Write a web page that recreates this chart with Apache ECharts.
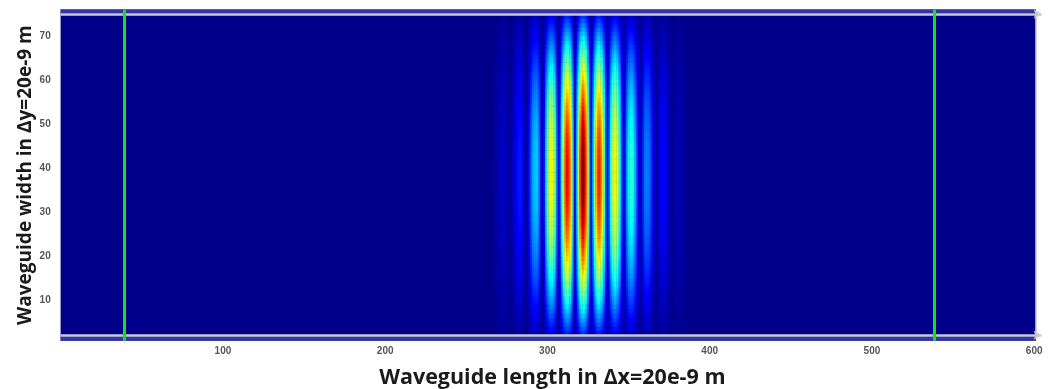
<!DOCTYPE html>
<html>
<head>
<meta charset="utf-8">
<script src="https://cdn.jsdelivr.net/npm/echarts@6/dist/echarts.min.js"></script>
<style>
  html, body { margin: 0; padding: 0; background: #ffffff; }
  #chart { width: 1048px; height: 389px; }
</style>
</head>
<body>
<div id="chart"></div>
<script>
// Axis tick labels
const xTicks = [100, 200, 300, 400, 500, 600];
const yTicks = [10, 20, 30, 40, 50, 60, 70];

// Detector lines (x positions) and waveguide walls (y positions)
const probeLines = [39, 538.5];
const walls = [2, 75];

// Field magnitude along the guide at the centre row, one cell per Δx, starting at x = 267
const xStart = 267;
const xProfile = [
  0.02, 0.02, 0.03, 0.045, 0.055, 0.06, 0.063, 0.058, 0.046, 0.026,
  0.02, 0.033, 0.068, 0.1, 0.126, 0.14, 0.15, 0.142, 0.114, 0.066,
  0.02, 0.077, 0.156, 0.23, 0.287, 0.32, 0.333, 0.307, 0.241, 0.136,
  0.045, 0.155, 0.312, 0.453, 0.561, 0.62, 0.614, 0.544, 0.41, 0.224,
  0.075, 0.24, 0.472, 0.67, 0.812, 0.88, 0.848, 0.731, 0.539, 0.287,
  0.09, 0.294, 0.567, 0.79, 0.94, 1.0, 0.937, 0.785, 0.562, 0.29,
  0.09, 0.281, 0.526, 0.712, 0.823, 0.85, 0.788, 0.654, 0.463, 0.237,
  0.075, 0.224, 0.413, 0.552, 0.629, 0.64, 0.588, 0.482, 0.338, 0.171,
  0.055, 0.157, 0.286, 0.375, 0.42, 0.42, 0.383, 0.312, 0.217, 0.109,
  0.035, 0.098, 0.177, 0.23, 0.254, 0.25, 0.225, 0.181, 0.124, 0.061,
  0.02, 0.053, 0.093, 0.118, 0.126, 0.12, 0.107, 0.084, 0.056, 0.027,
  0.01, 0.022, 0.038, 0.045, 0.046, 0.04, 0.036, 0.028, 0.016, 0.008
];

// Transverse mode profile across the guide, one cell per Δy, centres from y = 2.5 to 74.5
const yStart = 2.5;
const yProfile = [
  0.187, 0.224, 0.261, 0.298, 0.335, 0.371, 0.407, 0.443, 0.478, 0.513,
  0.547, 0.58, 0.612, 0.643, 0.673, 0.702, 0.73, 0.756, 0.781, 0.805,
  0.827, 0.848, 0.868, 0.886, 0.903, 0.919, 0.933, 0.946, 0.958, 0.968,
  0.977, 0.984, 0.99, 0.994, 0.997, 0.999, 1.0, 0.999, 0.997, 0.994,
  0.99, 0.984, 0.977, 0.968, 0.958, 0.946, 0.933, 0.919, 0.903, 0.886,
  0.868, 0.848, 0.827, 0.805, 0.781, 0.756, 0.73, 0.702, 0.673, 0.643,
  0.612, 0.58, 0.547, 0.513, 0.478, 0.443, 0.407, 0.371, 0.335, 0.298,
  0.261, 0.224, 0.187
];

// Simulation domain extent
const domainX = [0, 601];
const domainY = [0.75, 76];

// Jet colour scale
const jet = ['#00008a', '#0000ff', '#0080ff', '#00ffff', '#80ff80',
             '#ffff00', '#ff8000', '#ff0000', '#800000'];

const NAVY = '#00008a';
const STRIP = '#3434a6';
const WALL = '#cacad0';
const GREEN = '#12e312';
const LABEL_FONT = { fontFamily: 'Liberation Sans', fontWeight: 'bold', fontSize: 10, color: '#555555' };
const TITLE_FONT = { fontFamily: 'Open Sans', fontWeight: 'bold', color: '#1a1a1a' };

// Field table for the pulse: [x, y, magnitude]
const cells = [];
xProfile.forEach(function (a, i) {
  yProfile.forEach(function (b, j) {
    cells.push([xStart + i, yStart + j, a * b]);
  });
});

const PX_PER_X = 1.6225;
const X_MAX = 606;

const chart = echarts.init(document.getElementById('chart'), null, { renderer: 'canvas' });

function segment(p, q, style, endSymbol, endSize) {
  return [
    { coord: p, symbol: 'none', lineStyle: style },
    { coord: q, symbol: endSymbol || 'none', symbolSize: endSize || 0 }
  ];
}

chart.setOption({
  animation: false,
  backgroundColor: '#ffffff',
  grid: {
    show: false,
    outerBoundsMode: 'none',
    containLabel: false,
    left: 60.7,
    top: 9.6,
    width: X_MAX * PX_PER_X,
    height: 331.1
  },
  xAxis: {
    type: 'value',
    min: 0,
    max: X_MAX,
    name: 'Waveguide length in \u0394x=20e-9 m',
    nameLocation: 'middle',
    nameGap: 26,
    nameTextStyle: Object.assign({ fontSize: 21.5 }, TITLE_FONT),
    axisLine: { show: false },
    axisTick: { show: false },
    splitLine: { show: false },
    axisLabel: Object.assign({ customValues: xTicks, margin: 6 }, LABEL_FONT)
  },
  yAxis: {
    type: 'value',
    min: domainY[0],
    max: domainY[1],
    name: 'Waveguide width in \u0394y=20e-9 m',
    nameLocation: 'middle',
    nameGap: 26,
    nameMoveOverlap: false,
    nameTextStyle: Object.assign({ fontSize: 19 }, TITLE_FONT),
    axisLine: { show: true, lineStyle: { color: '#c2c2d6', width: 1.5 } },
    axisTick: { show: false },
    splitLine: { show: false },
    axisLabel: Object.assign({ customValues: yTicks, margin: 10 }, LABEL_FONT)
  },
  visualMap: {
    type: 'continuous',
    show: false,
    seriesIndex: 1,
    dimension: 2,
    min: 0,
    max: 1,
    inRange: { color: jet }
  },
  series: [
    {
      // domain background and the cladding strips beyond the walls
      type: 'line',
      name: 'domain',
      data: [],
      clip: false,
      silent: true,
      z: 1,
      markArea: {
        silent: true,
        data: [
          [{ coord: [domainX[0], domainY[0]], itemStyle: { color: NAVY } }, { coord: [domainX[1], domainY[1]] }],
          [{ coord: [domainX[0], walls[1] + 0.25], itemStyle: { color: STRIP } }, { coord: [domainX[1], domainY[1]] }],
          [{ coord: [domainX[0], domainY[0]], itemStyle: { color: STRIP } }, { coord: [domainX[1], walls[0] - 0.25] }]
        ]
      }
    },
    {
      type: 'custom',
      name: 'field',
      data: cells,
      progressive: 0,
      silent: true,
      z: 2,
      renderItem: function (params, api) {
        const x = api.value(0);
        const y = api.value(1);
        const p0 = api.coord([x - 0.5, y + 0.5]);
        const p1 = api.coord([x + 0.5, y - 0.5]);
        return {
          type: 'rect',
          shape: { x: p0[0], y: p0[1], width: p1[0] - p0[0] + 0.4, height: p1[1] - p0[1] + 0.4 },
          style: { fill: api.visual('color') }
        };
      }
    },
    {
      // walls and detector lines
      type: 'line',
      name: 'guide',
      data: [],
      clip: false,
      silent: true,
      z: 3,
      markLine: {
        silent: true,
        label: { show: false },
        emphasis: { disabled: true },
        data: [
          segment([0, walls[1]], [604.5, walls[1]], { color: WALL, width: 2.5, type: 'solid' }, 'arrow', [7, 8]),
          segment([0, walls[0]], [604.5, walls[0]], { color: WALL, width: 2.5, type: 'solid' }, 'arrow', [7, 8]),
          segment([601.2, walls[0]], [601.2, walls[1]], { color: WALL, width: 1.5, type: 'solid' }),
          segment([probeLines[0], domainY[0]], [probeLines[0], domainY[1]], { color: GREEN, width: 3, type: 'solid' }),
          segment([probeLines[1], domainY[0]], [probeLines[1], domainY[1]], { color: GREEN, width: 3, type: 'solid' })
        ]
      }
    }
  ]
});
</script>
</body>
</html>
